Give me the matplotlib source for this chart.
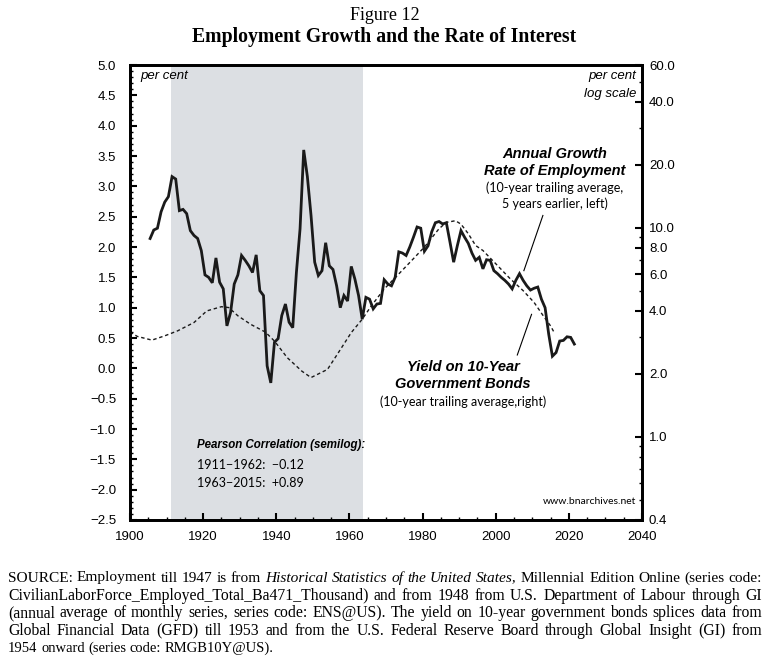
"""Figure 12: employment growth vs. the rate of interest (bnarchives style)."""
import matplotlib
matplotlib.use("Agg")
import matplotlib.pyplot as plt
import numpy as np
from matplotlib.ticker import FixedLocator, MultipleLocator, NullFormatter

# Annual growth rate of employment (10-yr trailing avg, 5 years earlier), per cent
emp_years = np.arange(1905, 2022)
emp_growth = [
    2.14, 2.28, 2.31, 2.58, 2.74, 2.83, 3.16, 3.12, 2.60, 2.62,   # 1905-1914
    2.55, 2.27, 2.19, 2.14, 1.94, 1.54, 1.50, 1.41, 1.82, 1.42,   # 1915-1924
    1.31, 0.70, 0.92, 1.39, 1.54, 1.86, 1.78, 1.69, 1.58, 1.87,   # 1925-1934
    1.28, 1.20, 0.04, -0.24, 0.43, 0.49, 0.87, 1.06, 0.76, 0.67,  # 1935-1944
    1.58, 2.30, 3.60, 3.16, 2.52, 1.75, 1.53, 1.61, 2.07, 1.69,   # 1945-1954
    1.63, 1.36, 1.00, 1.20, 1.11, 1.68, 1.47, 1.20, 0.81, 1.17,   # 1955-1964
    1.14, 0.98, 1.06, 1.07, 1.46, 1.39, 1.36, 1.50, 1.92, 1.90,   # 1965-1974
    1.86, 2.00, 2.16, 2.33, 2.31, 1.93, 2.02, 2.25, 2.40, 2.42,   # 1975-1984
    2.38, 2.40, 2.08, 1.75, 2.02, 2.27, 2.16, 2.06, 1.90, 1.78,   # 1985-1994
    1.83, 1.64, 1.79, 1.78, 1.61, 1.56, 1.50, 1.45, 1.39, 1.31,   # 1995-2004
    1.45, 1.56, 1.45, 1.36, 1.29, 1.32, 1.34, 1.14, 1.00, 0.56,   # 2005-2014
    0.20, 0.26, 0.45, 0.46, 0.52, 0.51, 0.40,                     # 2015-2021
]

# Yield on 10-year government bonds (10-yr trailing avg), per cent, log scale
bond_years = [
    1900, 1902, 1906, 1909.5, 1913, 1917.5, 1921, 1925, 1927, 1929.5,
    1933, 1937, 1939.5, 1943, 1947, 1949.5, 1954, 1957, 1960.5, 1963.5,
    1966, 1969.5, 1973.5, 1977, 1980.5, 1984.5, 1986.5, 1989, 1990.5, 1992.5,
    1994.5, 1996.5, 2000.5, 2004, 2007.5, 2010.5, 2013, 2015, 2016,
]
bond_yield = [
    3.17, 3.02, 2.90, 3.04, 3.21, 3.52, 4.00, 4.19, 4.15, 3.79,
    3.45, 3.17, 2.87, 2.39, 2.06, 1.92, 2.10, 2.53, 3.15, 3.65,
    4.23, 5.09, 6.01, 6.96, 8.08, 9.89, 10.6, 10.8, 10.4, 9.36,
    8.22, 7.78, 6.59, 5.69, 5.00, 4.39, 3.79, 3.39, 3.15,
]

shade_span = (1911.3, 1963.8)
left_ticks = np.arange(-2.5, 5.01, 0.5)
right_ticks = [0.4, 1, 2, 4, 6, 8, 10, 20, 40, 60]
right_minor = [0.5, 0.6, 0.7, 0.8, 0.9, 3, 5, 7, 9, 30, 50]

SANS = "Liberation Sans"
SERIF = "Liberation Serif"
NARROW = "Lato"

W, H = 769, 662
fig = plt.figure(figsize=(W / 100, H / 100), dpi=100)
ax = fig.add_axes([130 / W, 1 - 520 / H, 512 / W, 455 / H])
ax2 = ax.twinx()

ax.axvspan(*shade_span, color="#dcdfe3", lw=0, zorder=0)
# annual values plotted mid-year
ax.plot(emp_years + 0.5, emp_growth, color="#1a1a1a", lw=2.0, zorder=3,
        solid_joinstyle="miter")
ax2.plot(bond_years, bond_yield, color="#1a1a1a", lw=1.0, ls=(0, (2.5, 2)))

ax.set_xlim(1900, 2040)
ax.set_ylim(-2.5, 5.0)
ax2.set_yscale("log")
ax2.set_ylim(0.4, 60)

ax.xaxis.set_major_locator(MultipleLocator(20))
ax.xaxis.set_minor_locator(MultipleLocator(5))
ax.set_yticks(left_ticks)
ax.set_yticklabels([f"{v:.1f}".replace("-", "\u2212") for v in left_ticks])
ax.yaxis.set_minor_locator(MultipleLocator(0.1))
ax2.yaxis.set_major_locator(FixedLocator(right_ticks))
ax2.yaxis.set_minor_locator(FixedLocator(right_minor))
ax2.yaxis.set_minor_formatter(NullFormatter())
ax2.set_yticklabels([f"{v:.1f}" for v in right_ticks])

for a in (ax, ax2):
    for s in a.spines.values():
        s.set_linewidth(2.0)
ax.tick_params(axis="both", which="major", direction="in", length=5, width=1.5,
               labelsize=9.5)
ax.tick_params(axis="both", which="minor", direction="in", length=2.5, width=1.0)
ax.tick_params(axis="y", which="major", pad=10)
ax.tick_params(axis="x", which="major", pad=8)
ax2.tick_params(axis="y", which="major", direction="in", length=5, width=1.5,
                labelsize=9.5, pad=5)
ax2.tick_params(axis="y", which="minor", direction="in", length=2.5, width=1.0)
for lbl in ax.get_xticklabels() + ax.get_yticklabels() + ax2.get_yticklabels():
    lbl.set_family(SANS)

# annotations
ax.text(1902.7, 4.82, "per cent", fontsize=9.5, style="italic", family=SANS,
        va="center")
ax.text(2038.4, 4.82, "per cent", fontsize=9.5, style="italic", family=SANS,
        va="center", ha="right")
ax.text(2038.4, 4.52, "log scale", fontsize=9.5, style="italic", family=SANS,
        va="center", ha="right")

ax.text(2016.2, 3.54, "Annual Growth", fontsize=10.5, weight="bold",
        style="italic", family=SANS, ha="center", va="center")
ax.text(2016.2, 3.26, "Rate of Employment", fontsize=10.5, weight="bold",
        style="italic", family=SANS, ha="center", va="center")
ax.text(2016.2, 2.98, "(10-year trailing average,", fontsize=9,
        family=NARROW, ha="center", va="center")
ax.text(2016.2, 2.72, "5 years earlier, left)", fontsize=9,
        family=NARROW, ha="center", va="center")
ax.plot([2012.9, 2007.7], [2.52, 1.61], color="black", lw=0.8)

ax.text(1991.1, 0.03, "Yield on 10-Year", fontsize=10.5, weight="bold",
        style="italic", family=SANS, ha="center", va="center")
ax.text(1991.1, -0.25, "Government Bonds", fontsize=10.5, weight="bold",
        style="italic", family=SANS, ha="center", va="center")
ax.text(1991.1, -0.55, "(10-year trailing average,right)", fontsize=9,
        family=NARROW, ha="center", va="center")
ax.plot([2009.8, 2005.9], [0.89, 0.22], color="black", lw=0.8)

ax.text(1918.3, -1.26, "Pearson Correlation (semilog):", fontsize=8.3,
        weight="bold", style="italic", family=SANS, va="center")
ax.text(1918.3, -1.59, "1911\u22121962:  \u22120.12", fontsize=9,
        family=NARROW, va="center")
ax.text(1918.3, -1.89, "1963\u22122015:  +0.89", fontsize=9,
        family=NARROW, va="center")
ax.text(2038.4, -2.2, "www.bnarchives.net", fontsize=7.5, family=NARROW,
        ha="right", va="center")

# title
fig.text(0.5, 1 - 15 / H, "Figure 12", fontsize=13, family=SERIF,
         ha="center", va="center")
fig.text(0.5, 1 - 37 / H, "Employment Growth and the Rate of Interest",
         fontsize=14.2, weight="bold", family=SERIF, ha="center", va="center")

# justified source note, placed word by word
note_lines = [
    [("SOURCE: Employment till 1947 is from", "normal"),
     ("Historical Statistics of the United States,", "italic"),
     ("Millennial Edition Online (series code:", "normal")],
    [("CivilianLaborForce_Employed_Total_Ba471_Thousand) and from 1948 from "
      "U.S. Department of Labour through GI", "normal")],
    [("(annual average of monthly series, series code: ENS@US). The yield on "
      "10-year government bonds splices data from", "normal")],
    [("Global Financial Data (GFD) till 1953 and from the U.S. Federal Reserve "
      "Board through Global Insight (GI) from", "normal")],
    [("1954 onward (series code: RMGB10Y@US).", "normal")],
]
note_y = [578, 596, 613, 631, 648]
x0, x1 = 8, 762
base = 10.5
fig.canvas.draw()
renderer = fig.canvas.get_renderer()
for i, (parts, y) in enumerate(zip(note_lines, note_y)):
    words = [(w, st) for txt, st in parts for w in txt.split()]
    arts = [fig.text(0, 1 - y / H, w, fontsize=base, family=SERIF, style=st,
                     va="center") for w, st in words]
    last = i == len(note_lines) - 1
    size = base
    if not last:
        # let the size grow a little so the spaces stay close to normal
        widths = [a.get_window_extent(renderer).width for a in arts]
        space = 0.25 * base * 100 / 72
        natural = sum(widths) + space * (len(words) - 1)
        size = float(np.clip(base * (x1 - x0) / natural, 10.3, 11.3))
        for a in arts:
            a.set_fontsize(size)
    widths = [a.get_window_extent(renderer).width for a in arts]
    gap = 0.25 * size * 100 / 72 if last else \
        (x1 - x0 - sum(widths)) / (len(words) - 1)
    x = x0
    for a, w in zip(arts, widths):
        a.set_x(x / W)
        x += w + gap

fig.savefig("out.png", dpi=100)
